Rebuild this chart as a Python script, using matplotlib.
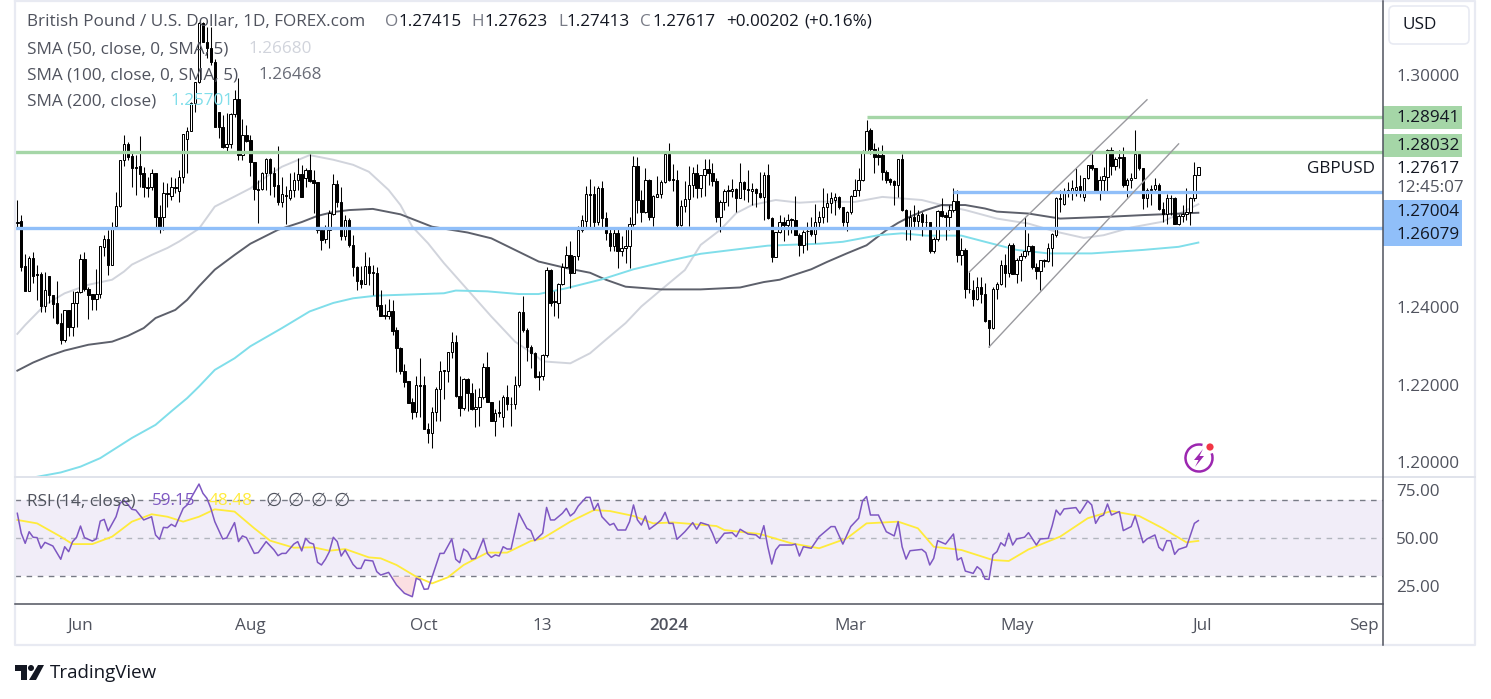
import matplotlib
matplotlib.use("Agg")
import matplotlib.pyplot as plt
from matplotlib.patches import Arc, Circle, FancyBboxPatch, Polygon, Rectangle
import numpy as np

WIDTH, HEIGHT = 1491, 699

# daily candles, price in 1e-4 units (12618 = 1.2618)
opens = [
    12618, 12623, 12507, 12442, 12527, 12486, 12486, 12403, 12481, 12432,
    12411, 12359, 12315, 12393, 12349, 12411, 12439, 12525, 12447, 12434,
    12421, 12434, 12556, 12576, 12509, 12610, 12662, 12781, 12822, 12791,
    12762, 12765, 12747, 12711, 12711, 12747, 12633, 12633, 12695, 12688,
    12711, 12700, 12737, 12835, 12855, 12928, 12982, 13135, 13085, 13070,
    13034, 12905, 12866, 12814, 12822, 12899, 12938, 12793, 12845, 12832,
    12775, 12706, 12706, 12747, 12783, 12747, 12716, 12672, 12690, 12682,
    12703, 12729, 12744, 12734, 12755, 12729, 12724, 12600, 12576, 12600,
    12641, 12719, 12672, 12584, 12626, 12561, 12504, 12470, 12460, 12507,
    12491, 12489, 12406, 12380, 12377, 12390, 12341, 12295, 12235, 12209,
    12155, 12129, 12198, 12198, 12085, 12074, 12130, 12188, 12238, 12234,
    12284, 12309, 12171, 12139, 12214, 12179, 12136, 12141, 12167, 12245,
    12156, 12107, 12128, 12117, 12169, 12151, 12149, 12198, 12387, 12340,
    12297, 12281, 12221, 12223, 12276, 12496, 12415, 12410, 12460, 12503,
    12535, 12489, 12533, 12600, 12624, 12693, 12693, 12619, 12709, 12630,
    12591, 12557, 12591, 12546, 12552, 12559, 12614, 12765, 12676, 12645,
    12729, 12634, 12686, 12693, 12724, 12796, 12731, 12729, 12613, 12662,
    12679, 12716, 12746, 12707, 12742, 12757, 12748, 12725, 12634, 12673,
    12703, 12699, 12705, 12683, 12723, 12705, 12699, 12705, 12696, 12684,
    12742, 12630, 12531, 12594, 12621, 12613, 12628, 12626, 12587, 12561,
    12598, 12600, 12589, 12619, 12634, 12658, 12668, 12678, 12684, 12658,
    12621, 12647, 12688, 12703, 12728, 12803, 12858, 12810, 12793, 12793,
    12750, 12730, 12726, 12716, 12783, 12651, 12601, 12634, 12623, 12640,
    12621, 12619, 12546, 12576, 12648, 12637, 12634, 12651, 12674, 12536,
    12549, 12448, 12444, 12421, 12453, 12433, 12367, 12345, 12446, 12459,
    12510, 12489, 12560, 12487, 12523, 12532, 12545, 12558, 12505, 12494,
    12522, 12520, 12554, 12586, 12683, 12666, 12703, 12701, 12703, 12713,
    12685, 12733, 12767, 12759, 12700, 12728, 12737, 12806, 12765, 12788,
    12789, 12716, 12728, 12735, 12797, 12759, 12681, 12705, 12705, 12717,
    12653, 12641, 12683, 12681, 12616, 12635, 12641, 12647, 12681, 12742,
]
highs = [
    12677, 12638, 12538, 12533, 12543, 12509, 12491, 12491, 12481, 12432,
    12468, 12385, 12393, 12393, 12442, 12442, 12538, 12543, 12452, 12434,
    12499, 12558, 12587, 12600, 12620, 12698, 12781, 12845, 12827, 12799,
    12793, 12843, 12762, 12737, 12757, 12747, 12664, 12724, 12721, 12737,
    12734, 12755, 12848, 12866, 12930, 12982, 13137, 13137, 13124, 13124,
    13042, 12905, 12897, 12902, 12902, 12961, 12992, 12887, 12871, 12845,
    12775, 12729, 12750, 12786, 12786, 12762, 12817, 12737, 12713, 12747,
    12750, 12786, 12768, 12760, 12796, 12755, 12724, 12600, 12613, 12651,
    12744, 12729, 12711, 12638, 12631, 12587, 12507, 12507, 12543, 12530,
    12509, 12504, 12445, 12408, 12421, 12419, 12349, 12297, 12253, 12209,
    12166, 12222, 12268, 12221, 12100, 12143, 12195, 12260, 12238, 12284,
    12337, 12328, 12221, 12216, 12216, 12204, 12188, 12191, 12255, 12285,
    12156, 12136, 12160, 12173, 12199, 12169, 12221, 12389, 12428, 12346,
    12303, 12284, 12234, 12278, 12503, 12498, 12443, 12462, 12514, 12557,
    12570, 12533, 12610, 12639, 12713, 12731, 12712, 12713, 12725, 12647,
    12608, 12608, 12608, 12583, 12608, 12632, 12791, 12788, 12703, 12759,
    12731, 12690, 12739, 12729, 12798, 12824, 12769, 12755, 12677, 12727,
    12766, 12763, 12769, 12742, 12783, 12782, 12772, 12733, 12677, 12705,
    12716, 12731, 12707, 12772, 12726, 12755, 12720, 12707, 12750, 12750,
    12770, 12634, 12595, 12639, 12634, 12641, 12630, 12688, 12591, 12600,
    12621, 12634, 12667, 12649, 12707, 12694, 12698, 12696, 12687, 12660,
    12649, 12690, 12730, 12759, 12806, 12885, 12862, 12823, 12815, 12819,
    12754, 12735, 12728, 12784, 12797, 12655, 12651, 12664, 12651, 12647,
    12642, 12621, 12582, 12651, 12681, 12647, 12664, 12707, 12704, 12578,
    12552, 12492, 12470, 12479, 12479, 12463, 12367, 12453, 12466, 12523,
    12537, 12565, 12565, 12526, 12539, 12634, 12591, 12560, 12513, 12523,
    12524, 12565, 12591, 12684, 12703, 12707, 12724, 12728, 12759, 12741,
    12735, 12767, 12797, 12759, 12739, 12761, 12808, 12815, 12789, 12806,
    12815, 12735, 12746, 12858, 12802, 12759, 12707, 12715, 12735, 12720,
    12672, 12692, 12690, 12685, 12641, 12664, 12707, 12685, 12776, 12762,
]
lows = [
    12607, 12494, 12442, 12442, 12463, 12419, 12388, 12388, 12411, 12372,
    12357, 12305, 12310, 12326, 12326, 12349, 12437, 12442, 12370, 12393,
    12393, 12425, 12532, 12483, 12509, 12605, 12659, 12765, 12781, 12711,
    12690, 12711, 12685, 12685, 12703, 12607, 12592, 12600, 12659, 12677,
    12695, 12672, 12721, 12747, 12855, 12905, 12980, 13085, 13044, 13026,
    12866, 12837, 12812, 12804, 12812, 12892, 12781, 12781, 12827, 12739,
    12677, 12618, 12703, 12703, 12690, 12685, 12664, 12659, 12615, 12677,
    12685, 12703, 12685, 12711, 12724, 12644, 12592, 12548, 12566, 12553,
    12638, 12659, 12574, 12574, 12556, 12481, 12445, 12450, 12460, 12458,
    12432, 12393, 12377, 12370, 12370, 12328, 12233, 12228, 12194, 12153,
    12111, 12116, 12117, 12085, 12050, 12036, 12105, 12105, 12162, 12208,
    12268, 12169, 12119, 12135, 12133, 12135, 12090, 12092, 12162, 12154,
    12105, 12068, 12115, 12090, 12135, 12094, 12136, 12195, 12337, 12262,
    12242, 12217, 12185, 12212, 12271, 12402, 12376, 12373, 12458, 12501,
    12449, 12488, 12522, 12595, 12604, 12604, 12608, 12613, 12608, 12574,
    12546, 12546, 12501, 12533, 12514, 12501, 12610, 12643, 12621, 12643,
    12626, 12610, 12684, 12682, 12720, 12725, 12699, 12608, 12610, 12647,
    12610, 12686, 12682, 12686, 12688, 12716, 12713, 12621, 12595, 12650,
    12662, 12686, 12647, 12682, 12677, 12673, 12664, 12660, 12682, 12626,
    12627, 12518, 12529, 12591, 12570, 12587, 12593, 12587, 12533, 12539,
    12548, 12583, 12567, 12608, 12618, 12621, 12644, 12638, 12655, 12610,
    12598, 12642, 12687, 12687, 12726, 12802, 12796, 12746, 12767, 12728,
    12720, 12715, 12664, 12685, 12649, 12573, 12573, 12601, 12604, 12584,
    12608, 12539, 12539, 12572, 12632, 12573, 12599, 12647, 12517, 12509,
    12425, 12436, 12403, 12418, 12410, 12362, 12298, 12343, 12420, 12457,
    12453, 12477, 12487, 12463, 12468, 12526, 12535, 12498, 12472, 12444,
    12505, 12518, 12506, 12582, 12646, 12664, 12685, 12677, 12687, 12684,
    12675, 12730, 12754, 12698, 12677, 12700, 12700, 12741, 12754, 12759,
    12711, 12685, 12707, 12733, 12754, 12655, 12658, 12664, 12698, 12651,
    12621, 12616, 12638, 12615, 12612, 12621, 12625, 12612, 12675, 12741,
]
closes = [
    12620, 12504, 12442, 12527, 12481, 12484, 12403, 12445, 12432, 12408,
    12359, 12315, 12393, 12349, 12411, 12439, 12525, 12447, 12432, 12421,
    12434, 12558, 12576, 12509, 12607, 12662, 12781, 12822, 12788, 12760,
    12760, 12744, 12711, 12709, 12747, 12633, 12602, 12695, 12693, 12711,
    12709, 12737, 12848, 12855, 12928, 12982, 13135, 13085, 13070, 13034,
    12866, 12866, 12814, 12822, 12899, 12938, 12793, 12845, 12830, 12775,
    12706, 12703, 12747, 12783, 12747, 12713, 12672, 12693, 12688, 12703,
    12729, 12744, 12685, 12755, 12726, 12721, 12600, 12574, 12605, 12644,
    12719, 12672, 12584, 12626, 12561, 12504, 12468, 12460, 12507, 12489,
    12489, 12403, 12377, 12378, 12390, 12339, 12295, 12235, 12207, 12153,
    12129, 12199, 12196, 12085, 12074, 12130, 12188, 12234, 12236, 12284,
    12309, 12171, 12139, 12214, 12179, 12136, 12141, 12167, 12245, 12156,
    12107, 12126, 12126, 12169, 12149, 12149, 12198, 12387, 12340, 12297,
    12281, 12219, 12219, 12276, 12496, 12412, 12413, 12460, 12503, 12535,
    12489, 12533, 12600, 12626, 12693, 12691, 12619, 12709, 12630, 12591,
    12557, 12591, 12546, 12552, 12559, 12614, 12765, 12676, 12645, 12729,
    12634, 12688, 12693, 12724, 12796, 12729, 12729, 12613, 12662, 12679,
    12716, 12746, 12707, 12742, 12757, 12748, 12725, 12634, 12673, 12701,
    12701, 12705, 12683, 12723, 12705, 12703, 12705, 12696, 12684, 12742,
    12630, 12531, 12594, 12621, 12613, 12626, 12626, 12587, 12561, 12595,
    12596, 12589, 12619, 12634, 12658, 12668, 12681, 12684, 12658, 12621,
    12647, 12688, 12703, 12728, 12803, 12855, 12810, 12789, 12789, 12750,
    12728, 12724, 12716, 12783, 12651, 12601, 12632, 12623, 12638, 12619,
    12619, 12546, 12576, 12648, 12635, 12634, 12651, 12674, 12536, 12549,
    12446, 12446, 12421, 12453, 12433, 12365, 12345, 12446, 12459, 12510,
    12489, 12560, 12487, 12523, 12532, 12545, 12558, 12505, 12494, 12522,
    12520, 12554, 12589, 12681, 12679, 12694, 12701, 12707, 12711, 12700,
    12733, 12767, 12759, 12701, 12728, 12739, 12806, 12765, 12784, 12786,
    12716, 12728, 12735, 12797, 12759, 12681, 12703, 12703, 12717, 12653,
    12641, 12681, 12681, 12616, 12635, 12642, 12647, 12681, 12741, 12762,
]

# moving averages at these bars
sma50_bars = [0, 2, 7, 12, 18, 24, 27, 29, 34, 38, 41, 46, 50, 55, 59, 63, 67, 74, 80,
              85, 89, 94, 97, 100, 104, 108, 114, 120, 126, 131, 133, 140, 145, 149,
              154, 158, 163, 169, 173, 178, 182, 186, 192, 198, 203, 212, 219, 229,
              234, 240, 248, 256, 263, 270, 275, 282, 290, 299]
sma50 = [12331, 12354, 12406, 12436, 12458, 12471, 12492, 12510, 12535, 12553, 12570,
         12603, 12660, 12686, 12707, 12737, 12763, 12793, 12781, 12768, 12750, 12703,
         12664, 12608, 12565, 12514, 12445, 12376, 12311, 12277, 12260, 12255, 12281,
         12316, 12359, 12402, 12445, 12496, 12561, 12600, 12643, 12664, 12677, 12670,
         12673, 12672, 12685, 12677, 12664, 12651, 12629, 12616, 12595, 12579, 12586,
         12606, 12621, 12666]
sma100_bars = [0, 4, 8, 12, 18, 24, 28, 32, 35, 40, 43, 46, 50, 55, 59, 66, 72, 76, 80,
               84, 90, 97, 100, 105, 114, 120, 126, 132, 139, 145, 149, 154, 163, 173,
               183, 189, 193, 198, 201, 205, 210, 215, 220, 223, 226, 230, 234, 240,
               245, 248, 256, 264, 277, 285, 299]
sma100 = [12236, 12257, 12274, 12288, 12303, 12311, 12326, 12346, 12372, 12393, 12419,
          12454, 12497, 12535, 12564, 12600, 12620, 12636, 12646, 12651, 12654, 12640,
          12628, 12608, 12593, 12578, 12548, 12518, 12501, 12489, 12471, 12453, 12446,
          12446, 12451, 12465, 12471, 12488, 12498, 12517, 12539, 12560, 12599, 12618,
          12634, 12651, 12664, 12664, 12655, 12647, 12642, 12629, 12634, 12638, 12644]
sma200_bars = [3, 11, 16, 21, 25, 29, 35, 39, 43, 46, 50, 55, 59, 67, 74, 80, 85, 91, 97,
               108, 111, 119, 127, 132, 139, 148, 156, 165, 173, 181, 190, 203, 209, 218,
               224, 230, 239, 245, 253, 261, 272, 285, 294, 299]
sma200 = [11958, 11973, 11988, 12010, 12036, 12062, 12096, 12131, 12165, 12195, 12238,
          12268, 12299, 12346, 12389, 12411, 12423, 12430, 12432, 12436, 12443, 12441,
          12434, 12434, 12449, 12472, 12498, 12520, 12538, 12548, 12559, 12564, 12569,
          12586, 12591, 12585, 12585, 12569, 12548, 12539, 12539, 12548, 12556, 12567]

rsi_bars = [
    0, 1, 2, 3, 4, 5, 6, 7, 9, 11, 12, 13, 14, 15, 16, 17, 19, 20, 21, 22, 23, 25, 26, 27,
    29, 30, 32, 34, 35, 36, 37, 38, 39, 40, 42, 43, 46, 47, 48, 49, 50, 52, 53, 55, 56, 57,
    58, 60, 61, 63, 65, 66, 67, 68, 70, 71, 72, 73, 74, 75, 76, 77, 78, 79, 80, 81, 82, 83,
    85, 86, 87, 88, 90, 91, 92, 94, 96, 98, 100, 101, 102, 103, 104, 107, 108, 110, 111,
    112, 113, 114, 115, 116, 118, 119, 120, 121, 122, 123, 124, 125, 127, 129, 130, 131,
    133, 134, 135, 136, 138, 139, 140, 141, 142, 144, 145, 146, 147, 148, 150, 151, 152,
    154, 155, 156, 157, 158, 159, 160, 162, 163, 164, 165, 166, 167, 169, 171, 172, 173,
    175, 176, 177, 179, 181, 182, 183, 185, 187, 188, 189, 190, 191, 192, 193, 196, 197,
    198, 199, 201, 203, 206, 207, 209, 211, 213, 214, 215, 216, 218, 220, 222, 223, 224,
    225, 226, 229, 230, 231, 232, 233, 235, 237, 238, 239, 240, 242, 243, 244, 245, 246,
    247, 248, 249, 250, 251, 252, 253, 255, 256, 258, 259, 261, 262, 263, 264, 265, 268,
    269, 271, 272, 273, 274, 275, 276, 277, 279, 280, 282, 283, 285, 286, 288, 289, 290,
    291, 292, 293, 294, 296, 298, 299,
]
rsi = [
    63.0, 52.5, 47.2, 53.3, 50.4, 50.2, 44.6, 47.7, 45.8, 38.8, 45.4, 42.8, 48.1, 50.4,
    56.3, 50.2, 48.4, 49.5, 58.9, 59.8, 53.7, 61.2, 68.2, 70.0, 65.1, 64.7, 59.5, 61.2,
    51.6, 49.3, 55.6, 55.4, 57.2, 56.0, 65.6, 67.4, 78.4, 73.5, 70.9, 65.6, 58.6, 49.5,
    50.0, 58.1, 48.1, 51.1, 50.2, 41.9, 42.3, 48.1, 43.7, 40.7, 41.9, 41.9, 46.8, 48.1,
    43.2, 49.8, 47.5, 46.8, 37.2, 35.8, 38.8, 42.8, 50.4, 48.1, 40.5, 43.7, 36.1, 34.0,
    34.0, 38.4, 37.9, 32.3, 30.5, 31.9, 25.3, 20.9, 19.1, 28.8, 27.9, 23.0, 23.2, 41.9,
    41.9, 49.5, 38.8, 37.0, 44.2, 42.8, 38.9, 39.3, 49.5, 41.9, 39.8, 41.1, 40.5, 45.4,
    44.2, 44.2, 63.0, 55.1, 53.9, 48.6, 52.5, 66.1, 59.5, 59.5, 63.0, 65.6, 61.6, 63.3,
    66.8, 71.4, 71.4, 64.7, 68.2, 61.2, 56.8, 57.7, 54.2, 54.2, 58.6, 67.4, 59.5, 56.8,
    61.6, 54.6, 57.7, 59.5, 63.5, 57.7, 57.7, 49.3, 53.3, 58.1, 54.6, 58.1, 56.8, 52.5,
    47.2, 52.5, 52.8, 50.7, 54.6, 52.1, 51.6, 49.8, 56.5, 45.4, 36.3, 43.7, 46.3, 46.3,
    46.8, 40.5, 45.4, 44.6, 50.7, 56.0, 56.0, 46.8, 56.0, 60.4, 69.6, 71.8, 62.1, 62.1,
    53.3, 51.1, 58.6, 45.4, 38.9, 43.3, 44.0, 42.3, 35.8, 39.3, 48.6, 46.8, 52.1, 38.4,
    39.6, 32.6, 31.4, 34.9, 33.2, 28.4, 28.2, 41.1, 42.8, 47.5, 45.8, 52.5, 46.3, 49.5,
    50.4, 52.8, 46.3, 49.5, 49.8, 56.5, 64.7, 62.1, 65.3, 66.0, 63.0, 69.5, 67.4, 57.7,
    61.2, 62.1, 67.9, 62.1, 63.9, 53.9, 56.0, 61.6, 47.5, 49.5, 51.6, 45.1, 43.3, 48.6,
    48.6, 41.4, 44.0, 45.4, 57.7, 59.15,
]
rsi_ma_bars = [0, 5, 11, 14, 19, 24, 29, 34, 38, 42, 46, 50, 55, 60, 64, 70, 75, 79, 83,
               89, 92, 96, 101, 105, 109, 113, 119, 124, 130, 133, 140, 146, 150, 156,
               161, 166, 177, 179, 188, 196, 203, 210, 215, 223, 228, 232, 239, 247,
               251, 256, 264, 271, 277, 284, 290, 296, 299]
rsi_ma = [59.5, 57.7, 50.7, 46.8, 46.8, 50.7, 58.6, 62.5, 61.2, 58.6, 61.2, 65.1, 63.9,
          55.1, 48.6, 44.9, 45.1, 43.3, 44.2, 39.8, 39.3, 35.8, 29.6, 26.1, 29.3, 35.8,
          42.3, 42.3, 48.4, 49.8, 58.6, 64.7, 64.2, 61.6, 57.7, 58.2, 56.3, 54.2, 52.1,
          47.2, 44.6, 49.8, 57.7, 58.6, 55.1, 45.4, 43.7, 38.4, 37.9, 44.0, 50.7, 60.4,
          64.2, 61.6, 55.1, 47.7, 48.48]

# drawn levels and the channel
green_levels = [1.2891, 1.2801]
green_starts = [215, 0]
blue_levels = [1.2697, 1.2604]
blue_starts = [237, 0]
channel_bars = [(241, 286), (246, 294)]
channel_prices = [(1.2491, 1.2936), (1.2297, 1.2822)]

price_ticks = [1.30, 1.24, 1.22, 1.20]
rsi_ticks = [75, 50, 25]
date_bars = [16, 59, 103, 133, 165, 211, 253, 300, 341]
date_labels = ["Jun", "Aug", "Oct", "13", "2024", "Mar", "May", "Jul", "Sep"]
tag_labels = ["1.28941", "1.28032", "1.27004", "1.26079"]

TEXT = "#50535e"
DARK = "#131722"
FRAME = "#e8eaf2"
GREEN = "#a5d6a7"
BLUE = "#90bff9"
PURPLE = "#7e57c2"
YELLOW = "#ffeb3b"
FS = 12.3

plt.rcParams["font.family"] = ["Open Sans", "DejaVu Sans"]


def panel(fig, left, top, right, bottom):
    return fig.add_axes([left / WIDTH, 1 - bottom / HEIGHT, (right - left) / WIDTH, (bottom - top) / HEIGHT])


def px_to_bar(x):
    return (x - 17.3) / 3.95


def px_to_price(y):
    return 1.31938 - y / 3870


def main():
    fig = plt.figure(figsize=(WIDTH / 100, HEIGHT / 100), dpi=100, facecolor="white")

    ax = panel(fig, 15, 2, 1383, 477)
    ax_rsi = panel(fig, 15, 477, 1383, 604)

    bars = np.arange(len(closes))
    o = np.array(opens) / 1e4
    h = np.array(highs) / 1e4
    l = np.array(lows) / 1e4
    c = np.array(closes) / 1e4

    # moving averages
    ax.plot(np.array(sma50_bars), np.array(sma50) / 1e4, color="#d1d4dc", lw=1.4, zorder=2)
    ax.plot(np.array(sma100_bars), np.array(sma100) / 1e4, color="#5d606b", lw=1.4, zorder=2)
    ax.plot(np.array(sma200_bars), np.array(sma200) / 1e4, color="#80deea", lw=1.4, zorder=2)

    # candles
    ax.vlines(bars, l, h, color="black", lw=0.75, zorder=3)
    up = c >= o
    body = np.maximum(np.abs(c - o), 0.00008)
    ax.bar(bars[up], body[up], bottom=np.minimum(o, c)[up], width=0.62, facecolor="white",
           edgecolor="black", linewidth=0.72, zorder=4)
    ax.bar(bars[~up], body[~up], bottom=np.minimum(o, c)[~up], width=0.62, facecolor="black",
           edgecolor="black", linewidth=0.72, zorder=4)

    # levels
    x_end = px_to_bar(1383)
    for level, start in zip(green_levels, green_starts):
        ax.hlines(level, start if start else px_to_bar(15), x_end, color=GREEN, lw=2.4, zorder=5)
    for level, start in zip(blue_levels, blue_starts):
        ax.hlines(level, start if start else px_to_bar(15), x_end, color=BLUE, lw=2.4, zorder=5)
    for xs, ys in zip(channel_bars, channel_prices):
        ax.plot(xs, ys, color="#9a9a9f", lw=1.0, zorder=5)

    ax.set_xlim(px_to_bar(15), px_to_bar(1383))
    ax.set_ylim(px_to_price(477), px_to_price(2))
    ax.set_xticks([])
    ax.yaxis.tick_right()
    ax.set_yticks(price_ticks)
    ax.set_yticklabels([f"{t:.5f}" for t in price_ticks], color=TEXT, fontsize=FS)
    ax.tick_params(axis="y", length=0, pad=9.5)

    # rsi
    ax_rsi.axhspan(30, 70, color=PURPLE, alpha=0.1, lw=0, zorder=1)
    ax_rsi.axhline(70, color="#787b86", lw=1, dashes=(4, 4), zorder=2)
    ax_rsi.axhline(50, color="#b2b5be", lw=1, dashes=(4, 4), zorder=2)
    ax_rsi.axhline(30, color="#787b86", lw=1, dashes=(4, 4), zorder=2)
    rb = np.array(rsi_bars)
    rv = np.array(rsi)
    dip = (rv <= 30) & (rb <= 101)
    ax_rsi.fill_between(rb, rv, 30, where=dip, interpolate=True, color="#fbdfe2", lw=0, zorder=2)
    ax_rsi.plot(rsi_ma_bars, rsi_ma, color=YELLOW, lw=1.3, zorder=3)
    ax_rsi.plot(rb, rv, color=PURPLE, lw=1.1, zorder=4)

    ax_rsi.set_xlim(px_to_bar(15), px_to_bar(1383))
    ax_rsi.set_ylim(50 - (604 - 538) / 1.9, 50 - (477 - 538) / 1.9)
    ax_rsi.yaxis.tick_right()
    ax_rsi.set_yticks(rsi_ticks)
    ax_rsi.set_yticklabels([f"{t:.2f}" for t in rsi_ticks], color=TEXT, fontsize=FS)
    ax_rsi.set_xticks(date_bars)
    ax_rsi.set_xticklabels(date_labels, color=TEXT, fontsize=FS)
    ax_rsi.get_xticklabels()[4].set_fontweight("semibold")
    ax_rsi.tick_params(axis="y", length=0, pad=9.5)
    ax_rsi.tick_params(axis="x", length=0, pad=10)

    for a in (ax, ax_rsi):
        for s in a.spines.values():
            s.set_visible(False)
    ax.patch.set_alpha(0)
    ax_rsi.patch.set_alpha(0)

    # page overlay in pixels: frame, legends, tags, logo
    ov = fig.add_axes([0, 0, 1, 1], zorder=10)
    ov.set_xlim(0, WIDTH)
    ov.set_ylim(HEIGHT, 0)
    ov.axis("off")
    ov.patch.set_alpha(0)

    ov.plot([15, 1475, 1475, 15, 15], [1, 1, 645, 645, 1], color=FRAME, lw=1.6)
    ov.plot([15, 1475], [477, 477], color="#e0e3eb", lw=1.4)
    ov.plot([15, 1383], [604, 604], color=TEXT, lw=1.1)
    ov.plot([1383, 1383], [1, 645], color=TEXT, lw=1.1)

    legend = [
        ("British Pound / U.S. Dollar, 1D, FOREX.com", 27, 22, TEXT),
        ("O", 385, 22, "#787b86"),
        ("1.27415", 398, 22, DARK),
        ("H", 471, 22, "#787b86"),
        ("1.27623", 484, 22, DARK),
        ("L", 558, 22, "#787b86"),
        ("1.27413", 566, 22, DARK),
        ("C", 640, 22, "#787b86"),
        ("1.27617", 653, 22, DARK),
        ("+0.00202", 726, 22, DARK),
        ("(+0.16%)", 804, 22, DARK),
        ("SMA (50, close, 0, SMA, 5)", 27, 49, TEXT),
        ("1.26680", 248, 49, "#d1d4dc"),
        ("SMA (100, close, 0, SMA, 5)", 27, 75, TEXT),
        ("1.26468", 258, 75, "#6a6d78"),
        ("SMA (200, close)", 27, 101, TEXT),
        ("1.25701", 170, 101, "#80deea"),
        ("RSI (14, close)", 27, 501, TEXT),
        ("59.15", 152, 501, PURPLE),
        ("48.48", 209, 501, YELLOW),
    ]
    for s, x, y, col in legend:
        ov.text(x, y, s, color=col, fontsize=FS, va="center", ha="left")
    for x in (266, 288, 311, 334):
        ov.text(x, 501, "∅", color=TEXT, fontsize=13.5, va="center", ha="left")

    # price tags
    for (y0, y1, col), s in zip([(106, 129, GREEN), (134, 157, GREEN), (200, 223, BLUE), (223, 246, BLUE)], tag_labels):
        ov.add_patch(Rectangle((1383, y0), 79, y1 - y0, facecolor=col, edgecolor="none"))
        ov.text(1396, (y0 + y1) / 2 + 0.5, s, color=DARK, fontsize=FS, va="center", ha="left")
    ov.text(1396, 169, "1.27617", color=DARK, fontsize=FS, va="center", ha="left")
    ov.text(1396, 188, "12:45:07", color=TEXT, fontsize=FS, va="center", ha="left")
    ov.text(1375, 169, "GBPUSD", color=DARK, fontsize=FS, va="center", ha="right")

    ov.add_patch(FancyBboxPatch((1389, 6), 80, 38, boxstyle="round,pad=0,rounding_size=5",
                                facecolor="white", edgecolor=FRAME, lw=1.2))
    ov.text(1403, 25, "USD", color=DARK, fontsize=FS, va="center", ha="left")

    # bolt icon
    ov.add_patch(Arc((1199, 458), 27, 27, theta1=-20, theta2=285, color="#9c27b0", lw=1.8))
    ov.add_patch(Polygon([(1203, 449), (1194, 460), (1198.5, 460), (1195, 467), (1204, 456), (1199.5, 456)],
                         closed=True, facecolor="#9c27b0", edgecolor="none"))
    ov.add_patch(Circle((1210, 447), 3.6, facecolor="#f23645", edgecolor="none"))

    # TradingView mark
    ov.add_patch(Polygon([(15, 665), (27, 665), (27, 680), (21, 680), (21, 671), (15, 671)],
                         closed=True, facecolor=DARK, edgecolor="none"))
    ov.add_patch(Circle((31, 668), 3, facecolor=DARK, edgecolor="none"))
    ov.add_patch(Polygon([(38, 665), (44, 665), (36, 680), (29, 680)], closed=True, facecolor=DARK, edgecolor="none"))
    ov.text(50, 673, "TradingView", color=DARK, fontsize=13.5, va="center", ha="left")

    fig.savefig("out.png", dpi=100, facecolor="white")
    plt.close(fig)


if __name__ == "__main__":
    main()
